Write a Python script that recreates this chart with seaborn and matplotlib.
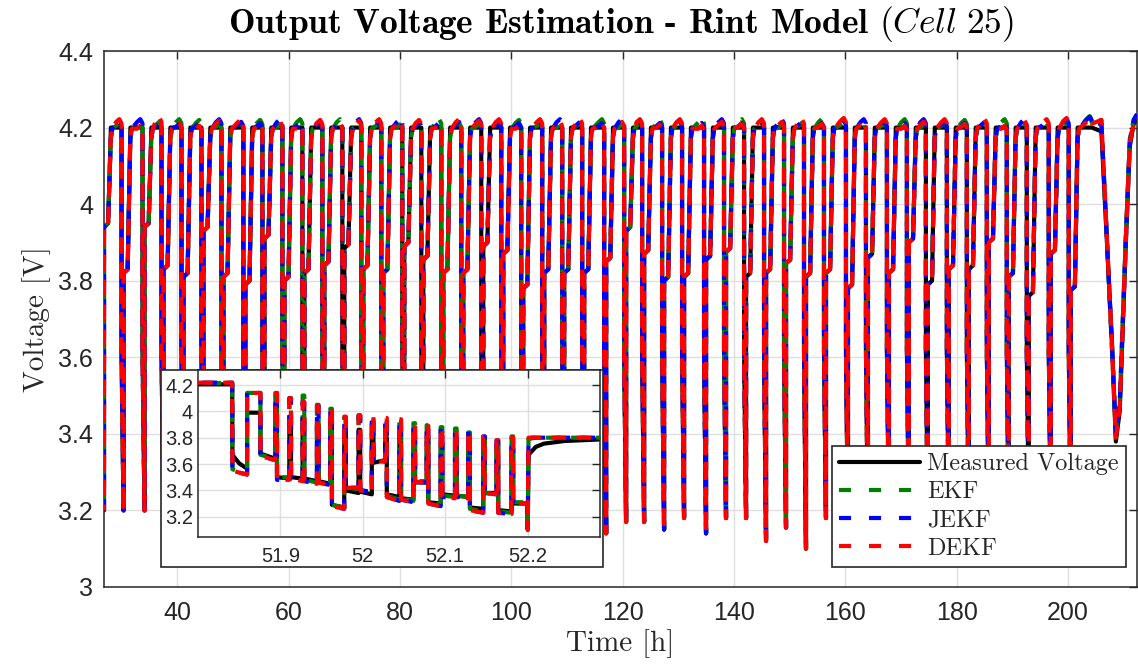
import numpy as np
import pandas as pd
import matplotlib
matplotlib.use("Agg")
import matplotlib.pyplot as plt
import seaborn as sns
from matplotlib.ticker import FuncFormatter
from matplotlib.patches import Rectangle
from matplotlib.lines import Line2D

# ---------------- data ----------------
# main view: cycle = discharge (drop), rest at shoulder voltage, charge to 4.2 V
first_t = 26.8          # data starts at the end of a discharge
first_min = 3.20
first_rest = 3.94

cycle_t = [29.95, 33.72, 37.13, 40.72, 44.31, 47.90, 51.84, 55.26, 58.85, 62.44,
           66.03, 69.62, 73.03, 76.62, 80.39, 83.81, 87.40, 90.99, 94.58, 98.17,
           101.76, 105.53, 109.12, 112.71, 116.66, 120.25, 123.48, 127.07, 130.66, 134.61,
           138.20, 141.80, 145.39, 148.98, 152.57, 156.16, 160.11, 163.70, 167.47, 171.06,
           174.47, 178.24, 181.83, 185.42, 189.01, 192.60, 196.55, 200.14]
cycle_min = [3.20, 3.20, 3.18, 3.17, 3.19, 3.18, 3.11, 3.17, 3.18, 3.16,
             3.19, 3.17, 3.18, 3.16, 3.19, 3.17, 3.18, 3.16, 3.18, 3.17,
             3.19, 3.16, 3.18, 3.15, 3.14, 3.17, 3.17, 3.15, 3.18, 3.14,
             3.18, 3.18, 3.12, 3.155, 3.10, 3.18, 3.17, 3.16, 3.18, 3.17,
             3.15, 3.18, 3.16, 3.17, 3.15, 3.18, 3.17, 3.18]
cycle_rest = [3.82, 3.94, 3.83, 3.81, 3.93, 3.81, 3.79, 3.91, 3.80, 3.82,
              3.84, 3.885, 3.83, 3.82, 3.89, 3.855, 3.82, 3.82, 3.89, 3.87,
              3.78, 3.82, 3.82, 3.82, 3.85, 3.93, 3.87, 3.80, 3.81, 3.855,
              3.875, 3.81, 3.82, 3.845, 3.81, 3.82, 3.78, 3.86, 3.82, 3.90,
              3.79, 3.83, 3.83, 3.90, 3.81, 3.76, 3.87, 3.775]
# estimator overshoot peaks at the end of each charge (first partial cycle + 48)
ekf_peak = [4.212, 4.210, 4.215, 4.222, 4.220, 4.210, 4.212, 4.220, 4.208, 4.222,
            4.212, 4.222, 4.210, 4.212, 4.208, 4.212, 4.222, 4.212, 4.210, 4.215,
            4.220, 4.212, 4.208, 4.212, 4.222, 4.208, 4.212, 4.220, 4.212, 4.222,
            4.210, 4.222, 4.212, 4.208, 4.212, 4.222, 4.215, 4.208, 4.212, 4.222,
            4.208, 4.212, 4.220, 4.212, 4.222, 4.210, 4.212, 4.215, 4.230]
jekf_peak = [4.215, 4.222, 4.212, 4.210, 4.212, 4.222, 4.215, 4.212, 4.222, 4.212,
             4.215, 4.212, 4.222, 4.215, 4.222, 4.215, 4.212, 4.215, 4.222, 4.212,
             4.212, 4.215, 4.222, 4.215, 4.212, 4.222, 4.215, 4.212, 4.215, 4.212,
             4.222, 4.212, 4.215, 4.222, 4.215, 4.212, 4.218, 4.222, 4.215, 4.212,
             4.222, 4.215, 4.212, 4.215, 4.212, 4.222, 4.215, 4.222, 4.228]
dekf_peak = [4.222, 4.205, 4.226, 4.212, 4.205, 4.218, 4.222, 4.208, 4.215, 4.205,
             4.220, 4.210, 4.218, 4.222, 4.215, 4.220, 4.208, 4.222, 4.218, 4.222,
             4.205, 4.222, 4.215, 4.222, 4.210, 4.215, 4.222, 4.208, 4.222, 4.205,
             4.215, 4.210, 4.222, 4.215, 4.222, 4.210, 4.225, 4.215, 4.222, 4.205,
             4.215, 4.222, 4.210, 4.222, 4.205, 4.218, 4.222, 4.225, 4.222]
# final slow discharge / recharge
tail_t = [204.3, 206.0, 207.9, 208.6, 209.3, 210.4, 211.1, 211.8, 212.4]
tail_meas = [4.20, 4.19, 3.64, 3.38, 3.46, 3.90, 4.15, 4.21, 4.22]
tail_ekf = [4.21, 4.22, 3.62, 3.40, 3.48, 3.92, 4.17, 4.22, 4.235]
tail_jekf = [4.21, 4.21, 3.63, 3.40, 3.48, 3.91, 4.16, 4.22, 4.235]
tail_dekf = [4.21, 4.22, 3.63, 3.39, 3.47, 3.91, 4.16, 4.21, 4.225]

# inset: dynamic discharge profile around 52 h
in_on = [51.8596, 51.8939, 51.9109, 51.9270, 51.9444, 51.9606, 51.9775, 51.9949, 52.0110, 52.0272,
         52.0445, 52.0615, 52.0776, 52.0946, 52.1120, 52.1281, 52.1463, 52.1624, 52.1806]
in_off = [51.8758, 51.8959, 51.9129, 51.9290, 51.9464, 51.9626, 51.9795, 51.9969, 52.0130, 52.0292,
          52.0465, 52.0635, 52.0796, 52.0966, 52.1140, 52.1301, 52.1483, 52.1644, 52.1826]
in_end = 52.2000
meas_top = [3.99, 4.03, 3.96, 3.95, 3.90, 3.92, 3.85, 3.86, 3.83, 3.80,
            3.81, 3.78, 3.77, 3.76, 3.78, 3.75, 3.72, 3.75, 3.72]
meas_b0 = [3.68, 3.50, 3.50, 3.49, 3.47, 3.29, 3.40, 3.39, 3.61, 3.37,
           3.34, 3.46, 3.31, 3.37, 3.36, 3.27, 3.38, 3.25, 3.30]
meas_b1 = [3.64, 3.49, 3.49, 3.47, 3.45, 3.27, 3.38, 3.37, 3.63, 3.35,
           3.33, 3.46, 3.30, 3.36, 3.35, 3.26, 3.38, 3.24, 3.30]
dekf_top = [4.14, 4.14, 4.10, 4.07, 4.04, 4.025, 3.96, 3.97, 3.96, 3.95,
            3.94, 3.90, 3.89, 3.875, 3.86, 3.845, 3.81, 3.78, 3.80]
dekf_b0 = [3.66, 3.48, 3.49, 3.47, 3.46, 3.28, 3.42, 3.40, 3.62, 3.35,
           3.33, 3.465, 3.30, 3.35, 3.35, 3.25, 3.38, 3.23, 3.30]
dekf_b1 = [3.63, 3.48, 3.47, 3.45, 3.44, 3.26, 3.42, 3.39, 3.62, 3.32,
           3.31, 3.46, 3.28, 3.34, 3.34, 3.23, 3.37, 3.22, 3.30]
ekf_top = [4.14, 4.12, 4.10, 4.12, 4.05, 4.02, 3.95, 3.96, 3.96, 3.94,
           3.93, 3.91, 3.895, 3.88, 3.87, 3.84, 3.82, 3.79, 3.81]
ekf_b0 = [3.67, 3.50, 3.52, 3.48, 3.46, 3.29, 3.42, 3.40, 3.62, 3.36,
          3.34, 3.47, 3.31, 3.36, 3.36, 3.26, 3.38, 3.24, 3.31]
ekf_b1 = [3.64, 3.50, 3.49, 3.46, 3.45, 3.27, 3.41, 3.39, 3.62, 3.33,
          3.32, 3.47, 3.29, 3.35, 3.35, 3.24, 3.37, 3.23, 3.31]
in_head_t = [51.78, 51.8415, 51.8418, 51.850, 51.8596]
meas_head = [4.205, 4.205, 3.67, 3.605, 3.565]
ekf_head = [4.215, 4.215, 3.56, 3.545, 3.53]
dekf_head = [4.218, 4.218, 3.55, 3.535, 3.52]
in_tail_t = [52.2, 52.2003, 52.2012, 52.210, 52.220, 52.245, 52.30]
meas_tail = [3.30, 3.11, 3.67, 3.73, 3.755, 3.775, 3.79]
ekf_tail = [3.31, 3.12, 3.79, 3.80, 3.80, 3.80, 3.80]
dekf_tail = [3.30, 3.10, 3.80, 3.80, 3.80, 3.80, 3.80]

x_ticks = [40, 60, 80, 100, 120, 140, 160, 180, 200]
y_ticks = [3.0, 3.2, 3.4, 3.6, 3.8, 4.0, 4.2, 4.4]
in_x_ticks = [51.9, 52.0, 52.1, 52.2]
in_y_ticks = [3.2, 3.4, 3.6, 3.8, 4.0, 4.2]

labels = ["Measured Voltage", "EKF", "JEKF", "DEKF"]
colors = ["#000000", "#008000", "#0000ff", "#ff0000"]


# ---------------- build paths ----------------
def main_path(peaks, tail_v):
    starts = [first_t - 0.36] + cycle_t
    mins = [first_min] + cycle_min
    rests = [first_rest] + cycle_rest
    nexts = cycle_t + [tail_t[0]]
    t, v = [], []
    for k, (td, vm, vr, tn) in enumerate(zip(starts, mins, rests, nexts)):
        if k > 0:
            top = 4.20 if peaks is None else peaks[k - 1] - 0.012
            t += [td, td + 0.003]
            v += [top, 3.62]
        t += [td + 0.36, td + 0.362, td + 1.1]
        v += [vm, vr, vr + 0.01]
        if peaks is None:
            t += [td + 1.6]
            v += [4.20]
        else:
            pk = peaks[k]
            t += [td + 1.58, td + 1.85, tn - 1.0, tn - 0.4, tn - 0.1]
            v += [4.172, 4.197, pk - 0.008, pk, pk - 0.008]
    t += tail_t
    v += tail_v
    return pd.DataFrame({"t": t, "v": v})


def inset_path(head_v, tops, b0, b1, tail_v):
    t = list(in_head_t)
    v = list(head_v)
    nexts = in_on[1:] + [in_end]
    for on, off, tp, a, b, nx in zip(in_on, in_off, tops, b0, b1, nexts):
        t += [on, off, off, nx]
        v += [tp, tp, a, b]
    t += in_tail_t
    v += tail_v
    return pd.DataFrame({"t": t, "v": v})


main_data = [main_path(None, tail_meas), main_path(ekf_peak, tail_ekf),
             main_path(jekf_peak, tail_jekf), main_path(dekf_peak, tail_dekf)]
inset_data = [inset_path(meas_head, meas_top, meas_b0, meas_b1, meas_tail),
              inset_path(ekf_head, ekf_top, ekf_b0, ekf_b1, ekf_tail),
              inset_path(dekf_head, dekf_top, dekf_b0, dekf_b1, dekf_tail),
              inset_path(dekf_head, dekf_top, dekf_b0, dekf_b1, dekf_tail)]

# ---------------- style ----------------
sns.set_style("white")
plt.rcParams["font.family"] = ["Liberation Sans", "DejaVu Sans"]
plt.rcParams["mathtext.fontset"] = "cm"
plt.rcParams["axes.unicode_minus"] = False

W, H = 1138, 669
fig = plt.figure(figsize=(W / 100, H / 100), dpi=100)
fig.patch.set_facecolor("white")
ax = fig.add_axes([104 / W, (H - 587) / H, (1137 - 104) / W, (587 - 51) / H], zorder=0)

main_styles = ["-", (0, (4.0, 2.0)), (1.3, (4.0, 2.0)), (2.6, (4.0, 2.0))]
inset_styles = ["-", (0, (3.5, 2.5)), (1.0, (3.5, 2.5)), (2.0, (3.5, 2.5))]
legend_dash = (0, (2.9, 4.3))

for i, df in enumerate(main_data):
    sns.lineplot(data=df, x="t", y="v", ax=ax, sort=False, estimator=None,
                 color=colors[i], linewidth=3.0, linestyle=main_styles[i],
                 legend=False, zorder=2 + i)

fmt = FuncFormatter(lambda val, pos: f"{val:g}")
dark = "#262626"


def style_axes(a, xt, yt, size, xpad, ypad):
    a.set_xticks(xt)
    a.set_yticks(yt)
    a.xaxis.set_major_formatter(fmt)
    a.yaxis.set_major_formatter(fmt)
    a.tick_params(direction="in", length=6, width=1.0, top=True, right=True,
                  labelsize=size, colors=dark)
    a.tick_params(axis="x", pad=xpad)
    a.tick_params(axis="y", pad=ypad)
    a.grid(True, color="#dfdfdf", linewidth=1.0)
    a.set_axisbelow(True)
    for s in a.spines.values():
        s.set_color(dark)
        s.set_linewidth(1.1)
        s.set_visible(True)


ax.set_xlim(26.8, 212.4)
ax.set_ylim(3.0, 4.4)
style_axes(ax, x_ticks, y_ticks, 18, 10, 8)
ax.set_xlabel("Time [h]", fontfamily="cmr10", fontsize=21, labelpad=3, color=dark)
ax.set_ylabel("Voltage [V]", fontfamily="cmr10", fontsize=21, labelpad=5, color=dark)
ax.set_title(r"Output Voltage Estimation - Rint Model $\mathit{(Cell\ 25)}$",
             fontfamily="cmb10", fontsize=25.5, pad=13, color="black")

handles = [Line2D([], [], color=colors[i], linewidth=3.0,
                  linestyle="-" if i == 0 else legend_dash) for i in range(4)]
leg = ax.legend(handles, labels, loc="lower left",
                bbox_to_anchor=(832 / W, (H - 567) / H), bbox_transform=fig.transFigure,
                prop={"family": "cmr10", "size": 17.5}, frameon=True, fancybox=False,
                edgecolor=dark, framealpha=1.0, borderpad=0.3, handlelength=3.3,
                handletextpad=0.3, labelspacing=0.25, borderaxespad=0)
leg.get_frame().set_linewidth(1.2)
leg.set_zorder(20)

# inset backdrop and axes
rect = Rectangle((161 / W, (H - 567) / H), (603 - 161) / W, (567 - 370) / H,
                 transform=fig.transFigure, facecolor="white", edgecolor=dark,
                 linewidth=1.2, zorder=1)
fig.add_artist(rect)
axi = fig.add_axes([198 / W, (H - 537) / H, (600 - 198) / W, (537 - 370) / H], zorder=2)
for i, df in enumerate(inset_data):
    sns.lineplot(data=df, x="t", y="v", ax=axi, sort=False, estimator=None,
                 color=colors[i], linewidth=3.0, linestyle=inset_styles[i],
                 legend=False, zorder=2 + i)
axi.set_xlim(51.80, 52.288)
axi.set_ylim(3.046, 4.314)
style_axes(axi, in_x_ticks, in_y_ticks, 14.5, 7, 3.5)
axi.set_xlabel("")
axi.set_ylabel("")
axi.set_facecolor("white")

fig.savefig("out.png", dpi=100, facecolor="white")
